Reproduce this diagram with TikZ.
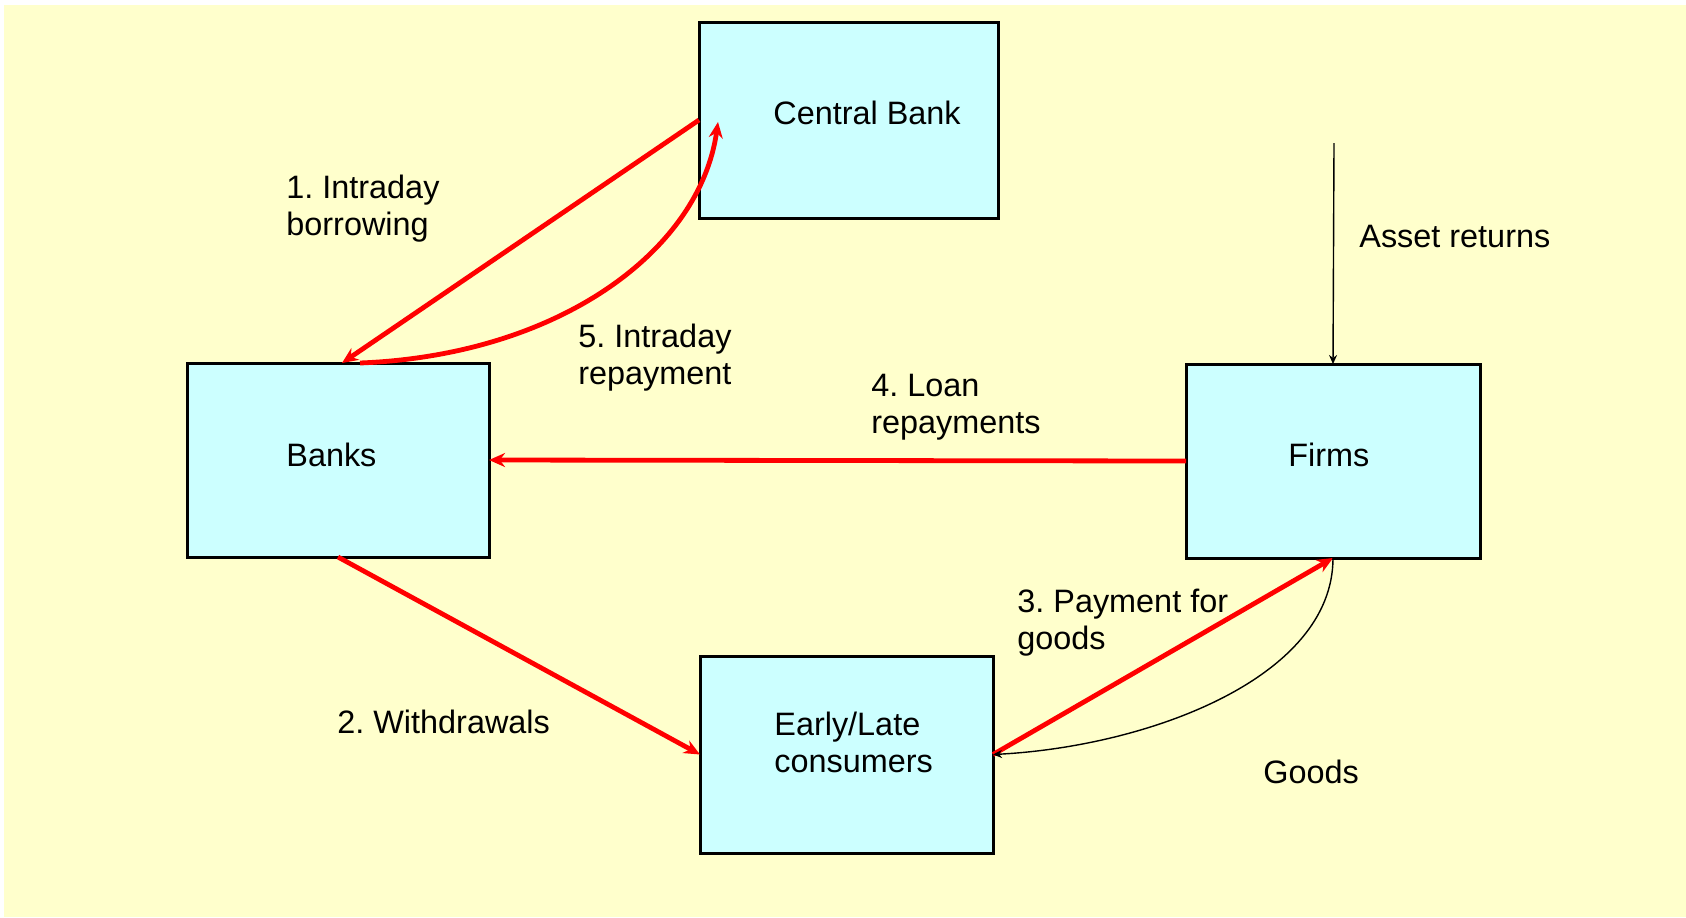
\documentclass[tikz,border=0pt]{standalone}
\usepackage{fontspec}
\setmainfont{Liberation Sans}
\frenchspacing
\usetikzlibrary{arrows.meta}
\definecolor{bgyellow}{HTML}{FFFFCC}
\definecolor{boxcyan}{HTML}{CCFFFF}
\definecolor{flowred}{HTML}{FF0000}
\begin{document}
\begin{tikzpicture}[x=0.5pt,y=-0.5pt,
  box/.style={draw=black,line width=1.5pt,fill=boxcyan,inner sep=0pt,outer sep=0pt},
  lbl/.style={font=\fontsize{16.2pt}{18.5pt}\selectfont,inner sep=0pt,anchor=base west,align=left},
  redflow/.style={draw=flowred,line width=2.4pt,-{Stealth[length=8pt,width=7pt]}},
  blackflow/.style={draw=black,line width=0.7pt,-{Stealth[length=4.5pt,width=4pt]}}]
\useasboundingbox (0,0) rectangle (1686,917);
\fill[bgyellow] (4,5) rectangle (1686,917);
% boxes
\node[box,minimum width=149.5pt,minimum height=98pt] (cb) at (848.5,120) {};
\node[box,minimum width=151pt,minimum height=97pt] (banks) at (338,460) {};
\node[box,minimum width=147pt,minimum height=97pt] (firms) at (1333,461) {};
\node[box,minimum width=146.5pt,minimum height=98.5pt] (cons) at (846.5,754.5) {};
% box texts (base anchor = baseline of last line)
\node[lbl] (cbt) at (773,124) {Central Bank};
\node[lbl] (bankst) at (286,466) {Banks};
\node[lbl] (firmst) at (1288,466) {Firms};
\node[lbl] (const) at (774,772) {Early/Late\\consumers};
% flow labels
\node[lbl] (l1) at (286,235) {1. Intraday\\borrowing};
\node[lbl] (l5) at (578,384) {5. Intraday\\repayment};
\node[lbl] (l4) at (871,433) {4. Loan\\repayments};
\node[lbl] (l3) at (1017,649) {3. Payment for\\goods};
\node[lbl] (l2) at (337,733) {2. Withdrawals};
\node[lbl] (lg) at (1263,783) {Goods};
\node[lbl] (la) at (1359,247) {Asset returns};
% connectors
\coordinate (artop) at (1334,143);
\draw[blackflow] (artop) -- (firms.north);
\draw[redflow] (cb.west) -- ([xshift=2pt]banks.north);
\draw[redflow] ([xshift=11pt]banks.north) .. controls (560,355) and (700,250) .. ([shift={(9.5pt,-1pt)}]cb.west);
\draw[redflow] (firms.west) -- (banks.east);
\draw[redflow] (banks.south) -- (cons.west);
\draw[redflow] (cons.east) -- (firms.south);
\draw[blackflow] (firms.south) .. controls +(0,120) and +(155,-8) .. (cons.east);
\end{tikzpicture}
\end{document}
